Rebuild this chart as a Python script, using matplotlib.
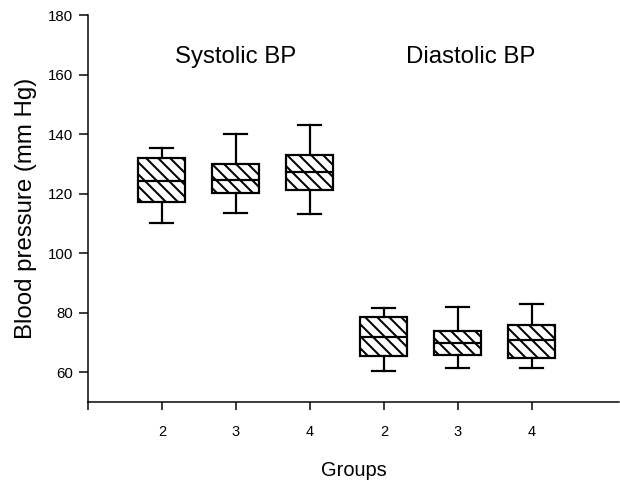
import matplotlib
matplotlib.use("Agg")
import matplotlib.pyplot as plt

plt.rcParams['font.family'] = ['Liberation Sans', 'DejaVu Sans']
plt.rcParams['hatch.linewidth'] = 2.0

# box statistics
groups = ['2', '3', '4', '2', '3', '4']
whislo = [110.2, 113.5, 113.0, 60.3, 61.3, 61.5]
q1 = [117.1, 120.3, 121.1, 65.6, 65.8, 64.8]
med = [124.2, 124.6, 127.2, 71.7, 69.7, 70.7]
q3 = [131.9, 129.9, 132.9, 78.7, 73.7, 75.8]
whishi = [135.4, 139.9, 142.9, 81.7, 82.0, 82.8]

stats = []
for i in range(len(groups)):
    stats.append({'whislo': whislo[i], 'q1': q1[i], 'med': med[i],
                  'q3': q3[i], 'whishi': whishi[i], 'fliers': []})

fig = plt.figure(figsize=(620 / 72, 486 / 72), dpi=72)
ax = fig.add_axes([88 / 620, 84 / 486, 531 / 620, 387 / 486])

positions = list(range(1, len(groups) + 1))
bp = ax.bxp(stats, positions=positions, widths=0.635, capwidths=0.31,
            patch_artist=True, showfliers=False,
            boxprops=dict(facecolor='white', edgecolor='black', linewidth=2.2, hatch='\\\\'),
            medianprops=dict(color='black', linewidth=2.2),
            whiskerprops=dict(color='black', linewidth=2.2),
            capprops=dict(color='black', linewidth=2.2))

ax.set_xlim(0, 7.18)
ax.set_ylim(50, 180)
ax.set_yticks([60, 80, 100, 120, 140, 160, 180])
ax.set_xticks([0] + positions)
ax.set_xticklabels([''] + groups)

ax.spines['top'].set_visible(False)
ax.spines['right'].set_visible(False)
ax.spines['left'].set_linewidth(1.5)
ax.spines['bottom'].set_linewidth(1.5)
ax.tick_params(axis='y', direction='out', length=9, width=1.5, pad=6, labelsize=15)
ax.tick_params(axis='x', direction='out', length=8, width=1.5, pad=15, labelsize=14.5)

ax.set_ylabel('Blood pressure (mm Hg)', fontsize=24, labelpad=11)
ax.set_xlabel('Groups', fontsize=20, labelpad=22)

ax.text(2.0, 163.8, 'Systolic BP', fontsize=24, ha='center', va='baseline')
ax.text(5.18, 163.8, 'Diastolic BP', fontsize=24, ha='center', va='baseline')

fig.savefig('out.png', dpi=72)
